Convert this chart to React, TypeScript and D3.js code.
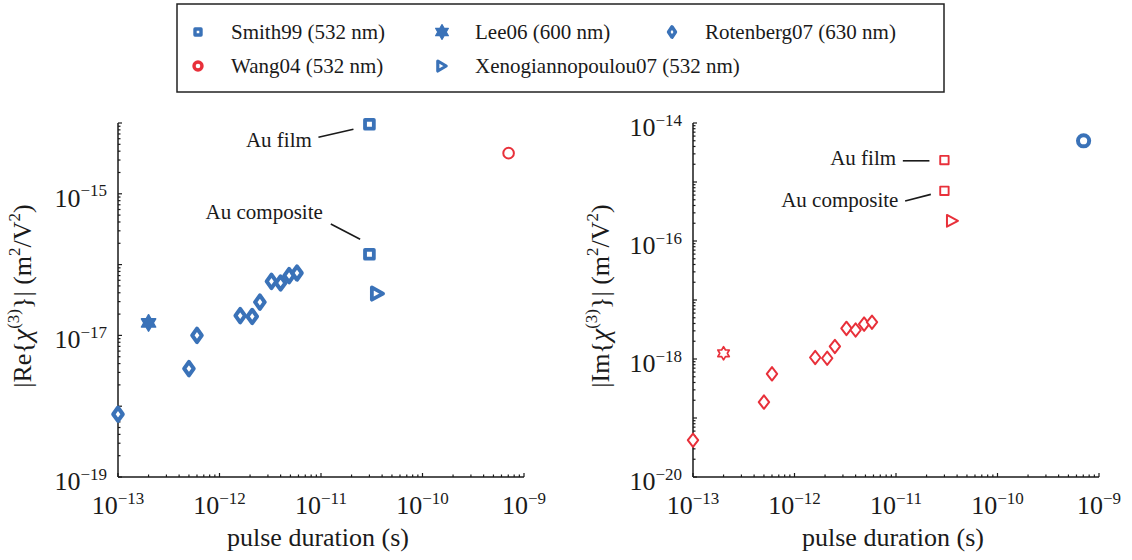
import React from "react";
import * as d3 from "d3";

// legend / series
const seriesNames = [
  "Smith99 (532 nm)",
  "Lee06 (600 nm)",
  "Rotenberg07 (630 nm)",
  "Wang04 (532 nm)",
  "Xenogiannopoulou07 (532 nm)",
];
const seriesShapes = ["square", "hexagram", "diamond", "circle", "triangle"];

// pulse durations (s)
const smithX = [3.0e-11, 3.0e-11];
const leeX = [2.0e-13];
const rotenbergX = [1.0e-13, 5.0e-13, 6.0e-13, 1.6e-12, 2.1e-12, 2.5e-12, 3.25e-12, 4.0e-12, 4.85e-12, 5.8e-12];
const wangX = [7.05e-10];
const xenoX = [3.6e-11];

// |Re{chi3}| (m^2/V^2)
const smithRe = [9.6e-15, 1.4e-16];
const leeRe = [1.5e-17];
const rotenbergRe = [7.7e-19, 3.4e-18, 1.0e-17, 1.9e-17, 1.85e-17, 2.95e-17, 5.8e-17, 5.5e-17, 7.0e-17, 7.6e-17];
const wangRe = [3.75e-15];
const xenoRe = [3.9e-17];

// |Im{chi3}| (m^2/V^2)
const smithIm = [2.35e-15, 7.1e-16];
const leeIm = [1.25e-18];
const rotenbergIm = [4.2e-20, 1.86e-19, 5.6e-19, 1.06e-18, 1.03e-18, 1.63e-18, 3.3e-18, 3.1e-18, 3.9e-18, 4.2e-18];
const wangIm = [5.0e-15];
const xenoIm = [2.2e-16];

// sign per series: "+" heavy blue, "-" red outline
const reSign = ["+", "+", "+", "-", "+"];
const imSign = ["-", "-", "-", "+", "-"];

const xTickExps = [-13, -12, -11, -10, -9];
const reTickExps = [-15, -17, -19];
const imTickExps = [-14, -16, -18, -20];
const annotLabels = ["Au film", "Au composite"];

const BLUE = "#3a72b8";
const RED = "#e8303a";
const INK = "#1a1a1a";
const FONT = "'Liberation Serif', 'Times New Roman', serif";

type Size = { s?: number; w?: number; h?: number; r?: number; sw: number };

const heavySize: Record<string, Size> = {
  square: { s: 8.8, sw: 3.8 },
  diamond: { w: 9.6, h: 13.4, sw: 4 },
  triangle: { w: 11.2, h: 12.2, sw: 3.8 },
  hexagram: { r: 8.2, sw: 1.5 },
  circle: { r: 5.6, sw: 4 },
};
const lightSize: Record<string, Size> = {
  square: { s: 8.4, sw: 1.9 },
  diamond: { w: 10.4, h: 13.4, sw: 2 },
  triangle: { w: 11, h: 11.8, sw: 2 },
  hexagram: { r: 6.6, sw: 1.7 },
  circle: { r: 5.3, sw: 2 },
};
const legendSize: Record<string, Size> = {
  square: { s: 6, sw: 3.4 },
  diamond: { w: 7, h: 10.4, sw: 3.4 },
  triangle: { w: 8.4, h: 10, sw: 3.2 },
  hexagram: { r: 7.4, sw: 1.2 },
  circle: { r: 4, sw: 3.4 },
};

function shapePath(shape: string, z: Size) {
  if (shape === "square") {
    const s = z.s!;
    return `M${-s / 2},${-s / 2}h${s}v${s}h${-s}Z`;
  }
  if (shape === "diamond") {
    return `M0,${-z.h! / 2}L${z.w! / 2},0L0,${z.h! / 2}L${-z.w! / 2},0Z`;
  }
  if (shape === "triangle") {
    return `M${-z.w! / 2},${-z.h! / 2}L${z.w! / 2},0L${-z.w! / 2},${z.h! / 2}Z`;
  }
  if (shape === "hexagram") {
    const pts = d3.range(12).map((k) => {
      const a = ((-90 + 30 * k) * Math.PI) / 180;
      const rr = k % 2 === 0 ? z.r! : z.r! / Math.sqrt(3);
      return [rr * Math.cos(a), rr * Math.sin(a)];
    });
    return "M" + pts.map((p) => p.join(",")).join("L") + "Z";
  }
  return "";
}

function Marker({ shape, x, y, heavy, color, size }: any) {
  const z: Size = size ?? (heavy ? heavySize[shape] : lightSize[shape]);
  const fill = shape === "hexagram" && heavy ? color : "#fff";
  if (shape === "circle") {
    return <circle cx={x} cy={y} r={z.r} fill="#fff" stroke={color} strokeWidth={z.sw} />;
  }
  return (
    <path
      d={shapePath(shape, z)}
      transform={`translate(${x},${y})`}
      fill={fill}
      stroke={color}
      strokeWidth={z.sw}
      strokeLinejoin="round"
    />
  );
}

const Pow = ({ x, y, e, anchor }: any) => (
  <text x={x} y={y} textAnchor={anchor} fontSize={26} fill={INK} fontFamily={FONT}>
    10
    <tspan dy={-10.5} fontSize={17}>
      {"\u2212" + Math.abs(e)}
    </tspan>
  </text>
);

type PanelProps = {
  x0: number;
  x1: number;
  yDomain: [number, number];
  part: string;
  values: number[][];
  signs: string[];
  labelExps: number[];
  annot: { dx: number; dy: number; line: number[] }[];
  titleX: number;
};

const xs = [smithX, leeX, rotenbergX, wangX, xenoX];

function Panel({ x0, x1, yDomain, part, values, signs, labelExps, annot, titleX }: PanelProps) {
  const top = 123;
  const bottom = 477;
  const x = d3.scaleLog().domain([1e-13, 1e-9]).range([x0, x1]);
  const y = d3.scaleLog().domain(yDomain).range([bottom, top]);
  const isMajor = (v: number) => Math.abs(Math.log10(v) - Math.round(Math.log10(v))) < 1e-6;

  // order drawn: rotenberg, lee, smith, xeno, wang
  const drawOrder = [2, 1, 0, 4, 3];

  return (
    <g>
      {x.ticks().map((t, i) => (
        <line
          key={"xt" + i}
          x1={x(t)}
          x2={x(t)}
          y1={bottom}
          y2={bottom - (isMajor(t) ? 4 : 2.5)}
          stroke={INK}
          strokeWidth={1.2}
        />
      ))}
      {y.ticks().map((t, i) => (
        <line
          key={"yt" + i}
          x1={x0}
          x2={x0 + (isMajor(t) ? 4 : 2.5)}
          y1={y(t)}
          y2={y(t)}
          stroke={INK}
          strokeWidth={1.2}
        />
      ))}
      <line x1={x0} x2={x1} y1={bottom} y2={bottom} stroke={INK} strokeWidth={1.5} />
      <line x1={x0} x2={x0} y1={bottom} y2={top} stroke={INK} strokeWidth={1.5} />

      {xTickExps.map((e) => (
        <Pow key={"xl" + e} x={x(Math.pow(10, e))} y={514} e={e} anchor="middle" />
      ))}
      {labelExps.map((e) => (
        <Pow key={"yl" + e} x={x0 - 11} y={y(Math.pow(10, e)) + 13} e={e} anchor="end" />
      ))}

      <text x={(x0 + x1) / 2 - 3} y={546} textAnchor="middle" fontSize={26} fill={INK} fontFamily={FONT}>
        pulse duration (s)
      </text>
      <text
        transform={`translate(${titleX},${(top + bottom) / 2 - 4}) rotate(-90)`}
        textAnchor="middle"
        fontSize={26}
        fill={INK}
        fontFamily={FONT}
      >
        {`|${part}{`}
        <tspan fontStyle="italic" fontSize={28}>χ</tspan>
        <tspan dy={-12} fontSize={17}>(3)</tspan>
        <tspan dy={12}>{"}| (m"}</tspan>
        <tspan dy={-11} fontSize={17}>2</tspan>
        <tspan dy={11}>/V</tspan>
        <tspan dy={-11} fontSize={17}>2</tspan>
        <tspan dy={11}>)</tspan>
      </text>

      {annotLabels.map((lab, i) => {
        const px = x(smithX[i]);
        const py = y(values[0][i]);
        const a = annot[i];
        return (
          <g key={"an" + i}>
            <text x={px + a.dx} y={py + a.dy} textAnchor="end" fontSize={21} fill={INK} fontFamily={FONT}>
              {lab}
            </text>
            <line
              x1={px + a.line[0]}
              y1={py + a.line[1]}
              x2={px + a.line[2]}
              y2={py + a.line[3]}
              stroke={INK}
              strokeWidth={1.6}
            />
          </g>
        );
      })}

      {drawOrder.map((si) =>
        xs[si].map((xv, j) => {
          const heavy = signs[si] === "+";
          return (
            <Marker
              key={`m${si}-${j}`}
              shape={seriesShapes[si]}
              x={x(xv)}
              y={y(values[si][j])}
              heavy={heavy}
              color={heavy ? BLUE : RED}
            />
          );
        })
      )}
    </g>
  );
}

function Legend() {
  const colX = [198, 442, 672];
  const rowY = [32, 66];
  const legendColor = ["+", "+", "+", "-", "+"];
  return (
    <g>
      <rect x={177} y={4} width={767} height={88} fill="#fff" stroke="#222" strokeWidth={1.5} />
      {seriesNames.map((name, i) => {
        const cx = colX[i % 3];
        const cy = rowY[Math.floor(i / 3)];
        const col = legendColor[i] === "+" ? BLUE : RED;
        return (
          <g key={name}>
            <Marker shape={seriesShapes[i]} x={cx} y={cy} heavy={true} color={col} size={legendSize[seriesShapes[i]]} />
            <text x={cx + 33} y={cy + 7} fontSize={21} fill={INK} fontFamily={FONT}>
              {name}
            </text>
          </g>
        );
      })}
    </g>
  );
}

export default function App() {
  return (
    <svg
      width={1132}
      height={560}
      style={{ position: "absolute", left: 0, top: 0, background: "#fff" }}
    >
      <Legend />
      <Panel
        x0={118}
        x1={524}
        yDomain={[1e-19, 1e-14]}
        part="Re"
        values={[smithRe, leeRe, rotenbergRe, wangRe, xenoRe]}
        signs={reSign}
        labelExps={reTickExps}
        annot={[
          { dx: -57.6, dy: 22.4, line: [-51, 13, -16, 5] },
          { dx: -46.6, dy: -35.3, line: [-38.6, -30.3, -9.3, -15] },
        ]}
        titleX={31}
      />
      <Panel
        x0={693}
        x1={1099}
        yDomain={[1e-20, 1e-14]}
        part="Im"
        values={[smithIm, leeIm, rotenbergIm, wangIm, xenoIm]}
        signs={imSign}
        labelExps={imTickExps}
        annot={[
          { dx: -48.3, dy: 5, line: [-41.6, 0.7, -15, 0.7] },
          { dx: -46, dy: 16.6, line: [-39.3, 10.3, -13.6, 3.6] },
        ]}
        titleX={609}
      />
    </svg>
  );
}
